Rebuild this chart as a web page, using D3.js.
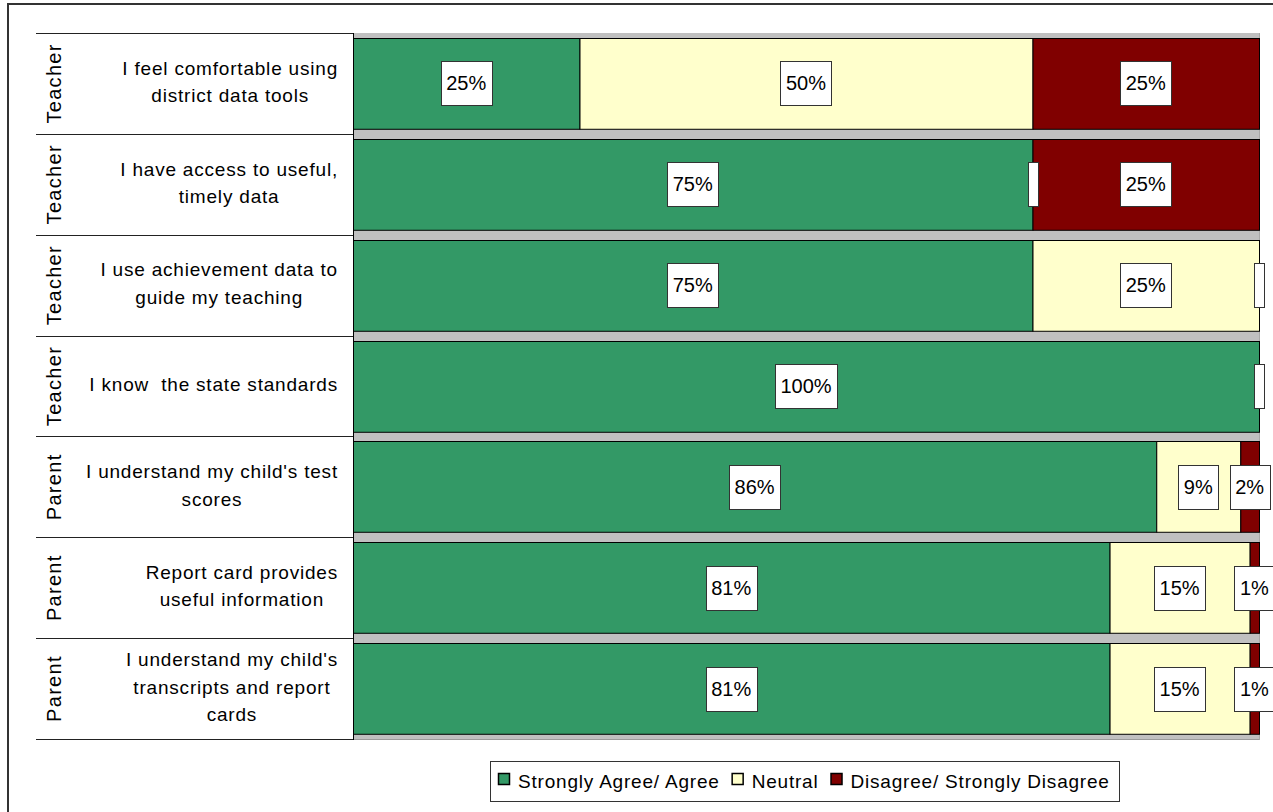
<!DOCTYPE html>
<html><head><meta charset="utf-8">
<script src="https://cdn.jsdelivr.net/npm/d3@7"></script>
<style>
html,body{margin:0;padding:0;background:#fff;}
svg{display:block;}
text{font-family:"Liberation Sans",Arial,sans-serif;fill:#000;}
</style></head>
<body>
<svg id="chart" width="1273" height="812"></svg>
<script>
// ---- data ----
const groups = ["Teacher","Teacher","Teacher","Teacher","Parent","Parent","Parent"];
const questions = [
  ["I feel comfortable using","district data tools"],
  ["I have access to useful,","timely data"],
  ["I use achievement data to","guide my teaching"],
  ["I know  the state standards"],
  ["I understand my child's test","scores"],
  ["Report card provides","useful information"],
  ["I understand my child's","transcripts and report","cards"]
];
const seriesNames = ["Strongly Agree/ Agree","Neutral","Disagree/ Strongly Disagree"];
const agree    = [25, 75, 75, 100, 86, 81, 81];
const neutral  = [50,  0, 25,   0,  9, 15, 15];
const disagree = [25, 25,  0,   0,  2,  1,  1];
const colors = ["#339966","#FFFFCC","#800000"];

// ---- layout ----
const svg = d3.select("#chart");
const plot = {left:353, right:1259, top:33, bottom:739};
const FONT = 19, LS = 0.8;

const rows = questions.map((q,i)=>({i, group:groups[i], q, a:agree[i], n:neutral[i], d:disagree[i]}));
const keys = ["a","n","d"];
const stack = d3.stack().keys(keys).offset(d3.stackOffsetExpand);
const stacked = stack(rows);

const x = d3.scaleLinear().domain([0,1]).range([plot.left, plot.right]);
const y = d3.scaleBand().domain(d3.range(rows.length)).range([plot.top, plot.bottom])
  .paddingInner(0.1).paddingOuter(0.05);
const yRow = d3.scaleBand().domain(d3.range(rows.length)).range([plot.top, plot.bottom]);

// outer frame
svg.append("rect").attr("x",8).attr("y",4).attr("width",1400).attr("height",1000)
  .attr("fill","none").attr("stroke","#333").attr("stroke-width",2);

// plot background
svg.append("rect").attr("x",plot.left).attr("y",plot.top)
  .attr("width",plot.right+1-plot.left).attr("height",plot.bottom+1-plot.top)
  .attr("fill","#C0C0C0");
svg.append("line").attr("x1",plot.left).attr("x2",plot.right+1)
  .attr("y1",plot.bottom+0.5).attr("y2",plot.bottom+0.5).attr("stroke","#9a9a9a");
svg.append("line").attr("x1",plot.right+0.5).attr("x2",plot.right+0.5)
  .attr("y1",plot.top).attr("y2",plot.bottom+1).attr("stroke","#a8a8a8");

// bars
stacked.forEach((s,si)=>{
  svg.append("g").selectAll("rect").data(s).join("rect")
    .attr("x",d=>x(d[0])+0.5)
    .attr("y",(d,i)=>Math.round(y(i))+0.5)
    .attr("width",d=>Math.max(0,x(d[1])-x(d[0])))
    .attr("height",y.bandwidth())
    .attr("fill",colors[si])
    .attr("stroke","#000").attr("stroke-width",1)
    .attr("display",d=>(d[1]-d[0])>0?null:"none");
});

// left axis line
svg.append("line").attr("x1",plot.left+0.5).attr("x2",plot.left+0.5)
  .attr("y1",plot.top).attr("y2",plot.bottom+1).attr("stroke","#000");

// data labels
const lblG = svg.append("g");
stacked.forEach((s,si)=>{
  s.forEach((d,i)=>{
    const val = rows[i][keys[si]];
    const cx = (x(d[0])+x(d[1]))/2;
    const cy = y(i)+y.bandwidth()/2;
    const txt = val>0 ? val+"%" : "";
    const g = lblG.append("g");
    const r = g.append("rect").attr("fill","#fff").attr("stroke","#333").attr("stroke-width",1);
    const t = g.append("text").attr("x",cx).attr("y",cy).attr("text-anchor","middle")
      .attr("dominant-baseline","central").style("font-size","20px").text(txt);
    const w = txt ? t.node().getComputedTextLength()+11 : 10;
    let bx = cx - w/2;
    r.attr("x",Math.round(bx)+0.5).attr("y",Math.round(cy-22)+0.5).attr("width",Math.round(w)).attr("height",44);
  });
});

// category labels
const catG = svg.append("g");
const blockRight = 338;
rows.forEach((r,i)=>{
  const cy = yRow(i)+yRow.bandwidth()/2 - 1.5;
  const lh = 27.5;
  const n = r.q.length;
  const ts = r.q.map((line,li)=>catG.append("text")
     .attr("y", cy + (li-(n-1)/2)*lh)
     .attr("dominant-baseline","central")
     .attr("text-anchor","middle")
     .style("font-size",FONT+"px").style("letter-spacing",LS+"px")
     .style("white-space","pre")
     .text(line));
  const maxW = d3.max(ts, t=>t.node().getComputedTextLength());
  ts.forEach(t=>t.attr("x", blockRight - maxW/2));
  // group label
  catG.append("text")
    .attr("transform",`translate(54,${yRow(i)+yRow.bandwidth()/2}) rotate(-90)`)
    .attr("text-anchor","middle").attr("dominant-baseline","central")
    .style("font-size","20px").style("letter-spacing","1.3px")
    .text(r.group);
});

// separator lines in label area
svg.append("g").selectAll("line").data(d3.range(rows.length+1)).join("line")
  .attr("x1",36).attr("x2",plot.left)
  .attr("y1",i=>Math.round(plot.top+i*yRow.step())+0.5)
  .attr("y2",i=>Math.round(plot.top+i*yRow.step())+0.5)
  .attr("stroke","#222").attr("stroke-width",1);

// legend
const leg = svg.append("g");
const legBox = leg.append("rect").attr("fill","#fff").attr("stroke","#333").attr("stroke-width",1);
let lx = 498;
const ly = 781;
seriesNames.forEach((nm,k)=>{
  leg.append("rect").attr("x",lx+0.5).attr("y",ly-7.5).attr("width",11).attr("height",11)
    .attr("fill",colors[k]).attr("stroke","#000").attr("stroke-width",1.5);
  const t = leg.append("text").attr("x",lx+20).attr("y",ly).attr("dominant-baseline","central")
    .style("font-size",FONT+"px").style("letter-spacing","0.8px").text(nm);
  lx = lx + 20 + t.node().getComputedTextLength() + 12;
});
legBox.attr("x",490.5).attr("y",761.5).attr("width",Math.round(lx-12+9-490)).attr("height",40);
</script>
</body></html>
